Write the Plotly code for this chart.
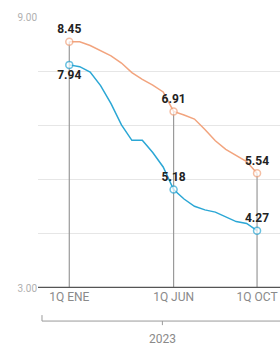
import plotly.graph_objects as go

periods = ["1Q ENE", "2Q ENE", "1Q FEB", "2Q FEB", "1Q MAR", "2Q MAR", "1Q ABR",
           "2Q ABR", "1Q MAY", "2Q MAY", "1Q JUN", "2Q JUN", "1Q JUL", "2Q JUL",
           "1Q AGO", "2Q AGO", "1Q SEP", "2Q SEP", "1Q OCT"]
general = [7.94, 7.90, 7.78, 7.48, 7.08, 6.61, 6.27, 6.27, 6.00, 5.68,
           5.18, 4.97, 4.81, 4.73, 4.68, 4.58, 4.47, 4.43, 4.27]
subyacente = [8.45, 8.45, 8.37, 8.25, 8.14, 7.98, 7.77, 7.62, 7.49, 7.34,
              6.91, 6.83, 6.74, 6.51, 6.26, 6.07, 5.93, 5.80, 5.54]
labeled = ["1Q ENE", "1Q JUN", "1Q OCT"]
year_label = "2023"
y_ticks = [3.0, 4.2, 5.4, 6.6, 7.8, 9.0]
y_ticktext = ["3.00", "", "", "", "", "9.00"]

ORANGE = "#f2a47e"
BLUE = "#2ba7d5"

def labels(vals):
    return [f"{v:.2f}" if p in labeled else "" for p, v in zip(periods, vals)]

def sizes(base):
    return [base if p in labeled else 0 for p in periods]

# drop lines from baseline to the highest marker at labeled periods
dx, dy = [], []
for p in labeled:
    i = periods.index(p)
    dx += [p, p, None]
    dy += [y_ticks[0], max(general[i], subyacente[i]), None]

fig = go.Figure()
fig.add_trace(go.Scatter(x=dx, y=dy, mode="lines",
                         line=dict(color="#9a9a9a", width=1.2),
                         hoverinfo="skip", showlegend=False))

gen_pos = ["bottom center" if p == "1Q ENE" else "top center" for p in periods]
fig.add_trace(go.Scatter(
    x=periods, y=general, mode="lines+markers+text", name="General",
    line=dict(color=BLUE, width=1.5),
    marker=dict(size=sizes(7), color="white", line=dict(color=BLUE, width=1.5)),
    text=labels(general), textposition=gen_pos,
    textfont=dict(family="Roboto", size=12, color="#222222", weight="bold"),
    cliponaxis=False, showlegend=False))
fig.add_trace(go.Scatter(
    x=periods, y=subyacente, mode="lines+markers+text", name="Subyacente",
    line=dict(color=ORANGE, width=1.5),
    marker=dict(size=sizes(7), color="white", line=dict(color=ORANGE, width=1.5)),
    text=labels(subyacente), textposition="top center",
    textfont=dict(family="Roboto", size=12, color="#222222", weight="bold"),
    cliponaxis=False, showlegend=False))

fig.update_layout(
    width=280, height=350,
    margin=dict(l=38, r=0, t=17, b=62),
    paper_bgcolor="white", plot_bgcolor="white",
    font=dict(family="Roboto", color="#8a8a8a"),
    xaxis=dict(
        type="category", categoryorder="array", categoryarray=periods,
        range=[-3.0, 20.2], tickvals=labeled, ticktext=labeled,
        showgrid=False, zeroline=False, showline=False, ticks="",
        tickfont=dict(size=12, color="#8a8a8a"),
    ),
    yaxis=dict(
        range=[y_ticks[0], y_ticks[-1]], tickvals=y_ticks, ticktext=y_ticktext,
        showgrid=True, gridcolor="#e6e6e6", gridwidth=1,
        zeroline=False, showline=False, ticks="",
        tickfont=dict(size=10, color="#b0b0b0"),
    ),
    shapes=[
        dict(type="line", xref="paper", yref="y", x0=0, x1=1,
             y0=y_ticks[0], y1=y_ticks[0], line=dict(color="#555555", width=2.5)),
        dict(type="line", xref="paper", yref="paper", x0=0.0165, x1=1,
             y0=-0.122, y1=-0.122, line=dict(color="#9a9a9a", width=1)),
        dict(type="line", xref="paper", yref="paper", x0=0.0165, x1=0.0165,
             y0=-0.122, y1=-0.100, line=dict(color="#9a9a9a", width=1)),
        dict(type="line", xref="paper", yref="paper", x0=0.514, x1=0.514,
             y0=-0.122, y1=-0.137, line=dict(color="#9a9a9a", width=1)),
    ],
    annotations=[
        dict(text=year_label, xref="paper", yref="paper", x=0.514, y=-0.188,
             showarrow=False, font=dict(size=12, color="#8a8a8a"),
             xanchor="center", yanchor="middle"),
    ],
)

fig.write_html(
    "out.html",
    config={"displayModeBar": False},
    post_script="document.body.style.margin='0';document.body.style.overflow='hidden';",
)
